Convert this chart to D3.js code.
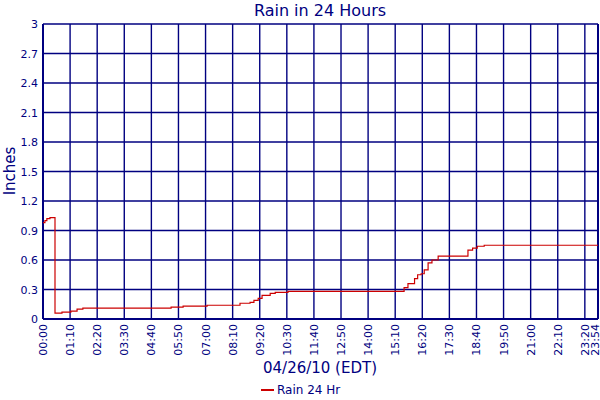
<!DOCTYPE html><html><head><meta charset="utf-8"><script src="https://d3js.org/d3.v7.min.js"></script>
<style>body{margin:0;background:#fff}text{font-family:Verdana,"DejaVu Sans",sans-serif}</style></head><body><svg id="c" width="600" height="400"></svg>
<script>
const minutes=[0,5,10,18,30,31,49,72,88,103,331,362,424,509,535,545,556,566,587,600,633,923,933,943,960,968,977,985,995,1005,1021,1091,1098,1110,1122,1140,1434];
const inches=[0.98,1.00,1.02,1.03,1.03,0.06,0.07,0.08,0.10,0.11,0.12,0.13,0.14,0.16,0.17,0.19,0.21,0.24,0.26,0.27,0.28,0.28,0.32,0.36,0.41,0.45,0.46,0.50,0.57,0.60,0.64,0.64,0.70,0.72,0.74,0.75,0.75];
const xTickLabels=["00:00","01:10","02:20","03:30","04:40","05:50","07:00","08:10","09:20","10:30","11:40","12:50","14:00","15:10","16:20","17:30","18:40","19:50","21:00","22:10","23:20","23:54"];
const yTicks=[0,0.3,0.6,0.9,1.2,1.5,1.8,2.1,2.4,2.7,3];
const navy="#000080";
const svg=d3.select("#c");
const L=43,R=598,T=24,B=319;
const x=d3.scaleLinear().domain([0,1434]).range([L,R]);
const y=d3.scaleLinear().domain([0,3]).range([B,T]);
const tm=xTickLabels.map(s=>{const [h,m]=s.split(":");return +h*60+ +m;});
const g=svg.append("g");
g.selectAll(".v").data(tm).join("line").attr("x1",d=>x(d)).attr("x2",d=>x(d)).attr("y1",T).attr("y2",B).attr("stroke",navy).attr("stroke-width",1.4);
g.selectAll(".h").data(yTicks).join("line").attr("x1",L).attr("x2",R).attr("y1",d=>y(d)).attr("y2",d=>y(d)).attr("stroke",navy).attr("stroke-width",1.4);
svg.append("line").attr("x1",L).attr("x2",L).attr("y1",T).attr("y2",B).attr("stroke",navy).attr("stroke-width",2);
svg.append("line").attr("x1",R).attr("x2",R).attr("y1",T).attr("y2",B).attr("stroke",navy).attr("stroke-width",2);
svg.append("line").attr("x1",L).attr("x2",R).attr("y1",B).attr("y2",B).attr("stroke",navy).attr("stroke-width",2);
svg.selectAll(".yl").data(yTicks).join("text").attr("x",L-5).attr("y",d=>y(d)+4).attr("text-anchor","end").attr("font-size",11).attr("fill",navy).text(d=>d===0?"0":d===3?"3":d.toFixed(1));
svg.selectAll(".xl").data(tm).join("text").attr("transform",(d,i)=>`translate(${Math.min(x(d)+4,599)},${B+5}) rotate(-90)`).attr("text-anchor","end").attr("font-size",11).attr("fill",navy).text((d,i)=>xTickLabels[i]);
const line=d3.line().x((d,i)=>x(minutes[i])).y(d=>y(d)).curve(d3.curveStepAfter);
svg.append("path").datum(inches).attr("d",line).attr("fill","none").attr("stroke","#cc0000").attr("stroke-width",1.2);
svg.append("text").attr("x",320).attr("y",16).attr("text-anchor","middle").attr("font-size",16).attr("fill",navy).text("Rain in 24 Hours");
svg.append("text").attr("transform","translate(15,171) rotate(-90)").attr("text-anchor","middle").attr("font-size",15).attr("fill",navy).text("Inches");
svg.append("text").attr("x",320).attr("y",373).attr("text-anchor","middle").attr("font-size",15).attr("fill",navy).text("04/26/10 (EDT)");
svg.append("line").attr("x1",261).attr("x2",274).attr("y1",390).attr("y2",390).attr("stroke","#cc0000").attr("stroke-width",2);
svg.append("text").attr("x",277).attr("y",394).attr("font-size",12).attr("fill",navy).text("Rain 24 Hr");
</script></body></html>
